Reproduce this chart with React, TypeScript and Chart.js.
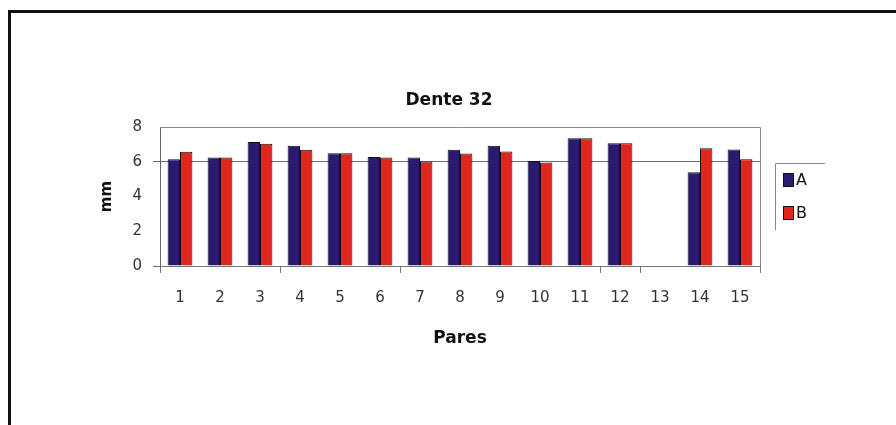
import React, { useEffect, useRef } from "react";
import { Chart, registerables } from "chart.js";

Chart.register(...registerables);

const categories = ["1", "2", "3", "4", "5", "6", "7", "8", "9", "10", "11", "12", "13", "14", "15"];
const seriesA = [6.14, 6.24, 7.13, 6.92, 6.49, 6.28, 6.24, 6.69, 6.92, 6.04, 7.35, 7.06, null, 5.4, 6.71];
const seriesB = [6.57, 6.24, 7.04, 6.69, 6.49, 6.24, 6.02, 6.47, 6.59, 5.95, 7.35, 7.06, null, 6.78, 6.14];
const seriesNames = ["A", "B"];
const seriesColors = ["#2B1B70", "#E0261F"];
const chartTitle = "Dente 32";
const xTitle = "Pares";
const yTitle = "mm";
const xTickMarks = [0, 3, 6, 11, 12];

const FONT = "'DejaVu Sans', 'Liberation Sans', Arial, sans-serif";

const decorPlugin = {
  id: "decor",
  beforeDatasetsDraw(chart: any) {
    const { ctx, chartArea } = chart;
    ctx.save();
    ctx.strokeStyle = "#8a8a8a";
    ctx.lineWidth = 1;
    ctx.beginPath();
    ctx.moveTo(chartArea.left, chartArea.top + 0.5);
    ctx.lineTo(chartArea.right + 0.5, chartArea.top + 0.5);
    ctx.lineTo(chartArea.right + 0.5, chartArea.bottom);
    ctx.stroke();
    ctx.restore();
  },
  afterDraw(chart: any) {
    const { ctx, chartArea } = chart;
    ctx.save();
    // title
    ctx.fillStyle = "#111";
    ctx.font = `bold 17px ${FONT}`;
    ctx.textAlign = "center";
    ctx.textBaseline = "middle";
    ctx.fillText(chartTitle, 449, 101);
    // legend
    const lx = chartArea.right + 15;
    const ly = 163;
    ctx.strokeStyle = "#888";
    ctx.lineWidth = 1;
    ctx.beginPath();
    ctx.moveTo(lx + 0.5, ly + 67);
    ctx.lineTo(lx + 0.5, ly + 0.5);
    ctx.lineTo(lx + 50, ly + 0.5);
    ctx.stroke();
    ctx.font = `16px ${FONT}`;
    ctx.textAlign = "left";
    chart.data.datasets.forEach((ds: any, i: number) => {
      const y = ly + 10 + i * 33;
      ctx.fillStyle = ds.backgroundColor;
      ctx.fillRect(lx + 8, y, 11, 14);
      ctx.strokeStyle = "#111";
      ctx.strokeRect(lx + 8.5, y + 0.5, 10, 13);
      ctx.fillStyle = "#111";
      ctx.fillText(ds.label, lx + 21, y + 8);
    });
    ctx.restore();
  },
};

export default function App() {
  const ref = useRef<HTMLCanvasElement>(null);
  useEffect(() => {
    if (!ref.current) return;
    const chart = new Chart(ref.current, {
      type: "bar",
      data: {
        labels: categories,
        datasets: [
          {
            label: seriesNames[0],
            data: seriesA,
            backgroundColor: seriesColors[0],
            borderColor: "#111",
            borderWidth: 1,
            categoryPercentage: 0.62,
            barPercentage: 1,
          },
          {
            label: seriesNames[1],
            data: seriesB,
            backgroundColor: seriesColors[1],
            borderColor: "#111",
            borderWidth: 1,
            categoryPercentage: 0.62,
            barPercentage: 1,
          },
        ],
      },
      options: {
        responsive: false,
        animation: false,
        layout: { padding: { left: 95, right: 136, top: 127, bottom: 0 } },
        plugins: {
          legend: { display: false },
          title: { display: false },
          tooltip: { enabled: false },
        },
        scales: {
          x: {
            grid: {
              offset: true,
              drawOnChartArea: false,
              drawTicks: true,
              tickLength: 7,
              tickColor: (c: any) =>
                c.index === undefined || xTickMarks.includes(c.index) ? "#777" : "rgba(0,0,0,0)",
            },
            border: { color: "#777", width: 1 },
            ticks: { color: "#333", padding: 16, font: { family: FONT, size: 15 } },
            title: {
              display: true,
              text: xTitle,
              color: "#111",
              font: { family: FONT, size: 17, weight: "bold" },
              padding: { top: 0, bottom: 75.8 },
            },
            afterFit: (s: any) => {
              s.height = 159;
            },
          },
          y: {
            min: 0,
            max: 8,
            ticks: { stepSize: 2, color: "#333", padding: 11, font: { family: FONT, size: 15 } },
            grid: {
              tickLength: 7,
              color: (c: any) => (c.tick && c.tick.value === 6 ? "#6e6e6e" : "rgba(0,0,0,0)"),
              tickColor: (c: any) =>
                c.tick && (c.tick.value === 6 || c.tick.value === 0) ? "#6e6e6e" : "rgba(0,0,0,0)",
            },
            border: { color: "#666", width: 1 },
            title: {
              display: true,
              text: yTitle,
              color: "#111",
              font: { family: FONT, size: 15, weight: "bold" },
              padding: { top: 3.5, bottom: 0 },
            },
            afterFit: (s: any) => {
              s.width = 65;
            },
          },
        },
      },
      plugins: [decorPlugin],
    } as any);
    return () => chart.destroy();
  }, []);
  return (
    <div
      style={{
        position: "fixed",
        left: 0,
        top: 0,
        width: 896,
        height: 425,
        overflow: "hidden",
        background: "#fff",
      }}
    >
      <canvas ref={ref} width={896} height={425} style={{ position: "absolute", left: 0, top: 0 }} />
      <div
        style={{
          position: "absolute",
          left: 8,
          top: 10,
          width: 2000,
          height: 2000,
          border: "3px solid #111",
          pointerEvents: "none",
        }}
      />
    </div>
  );
}
